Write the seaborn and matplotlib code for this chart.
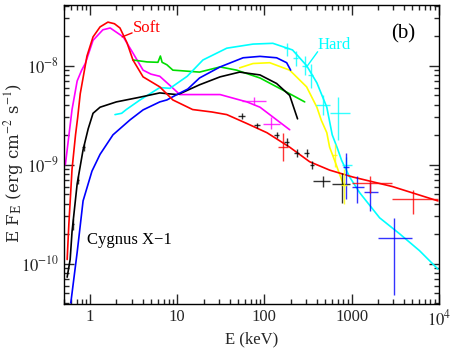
import numpy as np
import pandas as pd
import matplotlib
matplotlib.use("Agg")
import matplotlib.pyplot as plt
from matplotlib.ticker import LogLocator, NullFormatter
import seaborn as sns

# energies in keV, fluxes in units of 1e-9 erg cm^-2 s^-1
red_e = [0.545, 0.57, 0.62, 0.68, 0.72, 0.77, 0.92, 1.08, 1.3, 1.6, 1.9, 2.2, 2.65, 3.1,
         4.05, 6.3, 8.9, 15, 25, 37, 63, 107, 195, 330, 560, 1030, 2950, 9800]
red_f = [0.11, 0.25, 0.9, 2.0, 3.0, 5.2, 12.5, 19.5, 24.6, 27.5, 26.5, 24, 17, 11.4,
         7.7, 6.1, 4.5, 3.6, 3.4, 3.2, 2.6, 2.1, 1.5, 1.07, 0.88, 0.75, 0.6, 0.43]

mag_e = [0.52, 0.62, 0.71, 0.8, 0.88, 1.08, 1.4, 1.7, 2.4, 3.1, 4.05, 5.0, 6.3, 8.25,
         10.7, 15, 31, 52, 63, 89, 195]
mag_f = [1.0, 3.6, 7.0, 9.0, 10.5, 18, 23, 24, 19.5, 13.4, 9.0, 8.2, 7.8, 6.3,
         5.1, 5.1, 5.1, 4.5, 4.3, 3.8, 2.25]

grn_e = [3.1, 4.5, 6.0, 6.4, 6.7, 7.6, 8.9, 10.7, 18, 31, 48, 89, 180, 290]
grn_f = [11.4, 10.9, 10.8, 12.5, 10.8, 10.2, 9.0, 8.9, 8.6, 9.7, 9.0, 7.5, 5.4, 4.3]

blk_e = [0.545, 0.59, 0.62, 0.71, 0.83, 0.95, 1.08, 1.3, 2.0, 3.74, 6.3, 7.8, 9.9,
         10.7, 18, 31, 52, 89, 138, 195, 240]
blk_f = [0.073, 0.11, 0.21, 0.64, 1.41, 2.3, 3.3, 3.8, 4.3, 4.8, 5.3, 5.2, 5.1,
         5.2, 6.4, 7.7, 8.6, 8.05, 6.6, 5.0, 2.9]

cyn_e = [1.93, 2.3, 2.6, 3.74, 6.3, 8.25, 13, 19.7, 37, 74, 125, 210, 305, 400, 520,
         600, 690, 770, 950, 1240, 2100, 3560, 6030, 9800]
cyn_f = [3.2, 3.3, 3.6, 4.5, 6.0, 5.9, 7.8, 11.4, 15, 16.5, 16.8, 14.4, 10, 6.7, 3.8,
         2.0, 1.45, 1.1, 0.75, 0.52, 0.29, 0.2, 0.135, 0.088]

blu_e = [0.6, 0.71, 0.83, 1.05, 1.3, 1.83, 2.87, 4.05, 6.3, 7.6, 9.9, 13.2, 18, 31,
         57, 89, 138, 180, 200]
blu_f = [0.04, 0.13, 0.43, 0.86, 1.27, 2.0, 2.83, 3.57, 4.3, 4.5, 5.1, 5.8, 7.5, 9.7,
         12, 12.4, 12, 10.7, 9.0]

yel_e = [52, 74, 115, 195, 305, 400, 450, 520, 560, 640, 810]
yel_f = [9.5, 10.5, 10.7, 9.0, 6.1, 3.8, 2.8, 2.1, 1.5, 1.1, 0.62]

# crosses: energy, flux, energy range, flux range
blk_pts = [(0.64, 0.25, 0.62, 0.66, 0.22, 0.28), (0.72, 0.7, 0.7, 0.75, 0.63, 0.77),
           (0.84, 1.5, 0.81, 0.87, 1.38, 1.62),
           (55, 3.1, 50, 60, 2.9, 3.3), (82, 2.5, 75, 90, 2.35, 2.65),
           (138, 2.0, 128, 148, 1.85, 2.15), (180, 1.7, 168, 193, 1.55, 1.85),
           (235, 1.3, 220, 250, 1.18, 1.43), (305, 1.3, 285, 325, 1.18, 1.43),
           (350, 1.0, 330, 372, 0.9, 1.1), (465, 0.68, 360, 560, 0.6, 0.76),
           (770, 0.64, 590, 950, 0.41, 0.83)]
cyn_pts = [(180, 15, 168, 193, 12.5, 17), (230, 12, 215, 245, 10, 14),
           (290, 10, 272, 310, 8, 12.5), (340, 8, 320, 362, 6, 10.5),
           (465, 4.0, 390, 560, 3.2, 5.0), (700, 3.3, 560, 950, 1.78, 4.8),
           (860, 1.0, 770, 1000, 0.8, 1.2)]
blu_pts = [(860, 0.95, 800, 930, 0.45, 1.3), (1170, 0.6, 1000, 1400, 0.41, 0.77),
           (1640, 0.53, 1400, 1990, 0.34, 0.66), (3100, 0.18, 1990, 5000, 0.048, 0.29)]
red_pts = [(165, 1.5, 142, 185, 1.1, 2.1), (1620, 0.65, 1000, 2950, 0.52, 0.77),
           (5100, 0.45, 2950, 9800, 0.32, 0.55)]
mag_pts = [(75, 4.4, 55, 105, 4.0, 4.8), (120, 2.6, 96, 150, 2.3, 3.0)]
yel_pts = [(640, 1.25, 600, 680, 0.95, 1.6), (820, 0.62, 760, 880, 0.4, 0.9)]

sns.set_style("ticks")
plt.rcParams['font.family'] = ['Liberation Serif', 'DejaVu Serif']
plt.rcParams['mathtext.fontset'] = 'stix'

fig = plt.figure(figsize=(4.63, 3.54), dpi=100)
ax = fig.add_axes([0.138, 0.141, 0.8095, 0.845])

curves = [(mag_e, mag_f, 'magenta'), (grn_e, grn_f, '#00dd00'), (yel_e, yel_f, 'yellow'),
          (cyn_e, cyn_f, 'cyan'), (blk_e, blk_f, 'black'), (blu_e, blu_f, 'blue'),
          (red_e, red_f, 'red')]
for e, f, c in curves:
    df = pd.DataFrame({'E': e, 'F': np.array(f) * 1e-9})
    sns.lineplot(data=df, x='E', y='F', color=c, lw=1.2, sort=False,
                 estimator=None, ax=ax)

crosses = [(blk_pts, 'black'), (cyn_pts, 'cyan'), (blu_pts, 'blue'),
           (red_pts, 'red'), (mag_pts, 'magenta'), (yel_pts, 'yellow')]
for pts, c in crosses:
    p = np.array(pts)
    x, y = p[:, 0], p[:, 1] * 1e-9
    xerr = [x - p[:, 2], p[:, 3] - x]
    yerr = [y - p[:, 4] * 1e-9, p[:, 5] * 1e-9 - y]
    ax.errorbar(x, y, xerr=xerr, yerr=yerr, fmt='none', ecolor=c, elinewidth=1.0,
                alpha=0.8)

ax.set_xscale('log')
ax.set_yscale('log')
ax.set_xlim(0.5, 1e4)
ax.set_ylim(3.9e-11, 4.1e-8)

ax.set_xticks([1, 10, 100, 1000, 1e4])
ax.set_xticklabels(['1', '10', '100', '1000', '$10^4$'])
ax.set_yticks([1e-10, 1e-9, 1e-8])
ax.set_yticklabels(['$10^{-10}$', '$10^{-9}$', '$10^{-8}$'])
ax.xaxis.set_minor_locator(LogLocator(base=10, subs=np.arange(2, 10)))
ax.yaxis.set_minor_locator(LogLocator(base=10, subs=np.arange(2, 10)))
ax.xaxis.set_minor_formatter(NullFormatter())
ax.yaxis.set_minor_formatter(NullFormatter())
ax.tick_params(which='both', direction='in', top=True, right=True, width=1.0,
               labelsize=12)
ax.tick_params(which='major', length=7)
ax.tick_params(which='minor', length=3.5)
for s in ax.spines.values():
    s.set_linewidth(1.0)
    s.set_color('black')

ax.set_xlabel('E (keV)', fontsize=12, labelpad=2)
ax.set_ylabel('E F$_\\mathregular{E}$ (erg cm$^{-2}$ s$^{-1}$)', fontsize=12,
              family='DejaVu Serif')
ax.yaxis.set_label_coords(-0.102, 0.47)

ax.text(3.1, 2.4e-8, 'Soft', color='red', fontsize=12, ha='left', va='center')
ax.plot([3.03, 2.33], [2.14e-8, 1.95e-8], color='red', lw=1.0)
ax.text(408, 1.6e-8, 'Hard', color='cyan', fontsize=12, ha='left', va='center')
ax.plot([408, 305], [1.38e-8, 0.97e-8], color='cyan', lw=1.0)
ax.text(3950, 2.1e-8, '(b)', color='black', fontsize=15, ha='center', va='center')
ax.text(0.92, 1.72e-10, 'Cygnus X\u22121', color='black', fontsize=12, ha='left',
        va='center')

fig.savefig('out.png', dpi=100)
